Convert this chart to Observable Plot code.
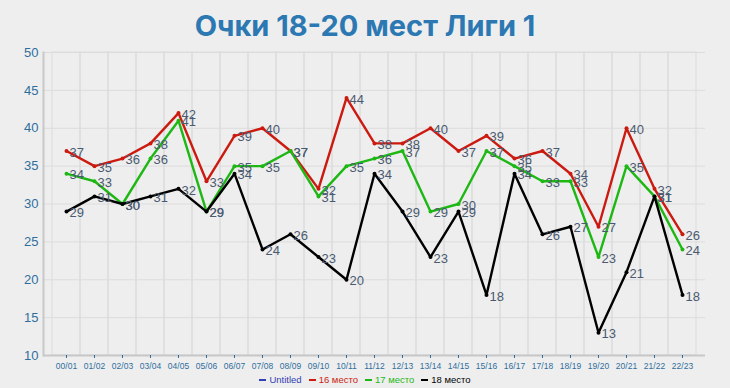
<!DOCTYPE html>
<html>
<head>
<meta charset="utf-8">
<script src="https://cdn.jsdelivr.net/npm/d3@7"></script>
<script src="https://cdn.jsdelivr.net/npm/@observablehq/plot@0.6"></script>
<style>
  html, body { margin: 0; padding: 0; background: #eeeeee; }
  #wrap { width: 730px; height: 388px; overflow: hidden; }
  #title { height: 40px; line-height: 52px; text-align: center; font-family: Inter, "Open Sans", sans-serif; font-weight: 700; font-size: 29px; color: #2b78b3; }
  #legend { height: 18px; display: flex; justify-content: center; align-items: center; gap: 7px; font-family: "Liberation Sans", Arial, sans-serif; font-size: 9.5px; font-weight: normal; }
  #legend span.sw { display: inline-block; width: 7px; height: 2px; vertical-align: middle; margin-right: 3px; }
</style>
</head>
<body>
<div id="wrap">
  <div id="title">Очки 18-20 мест Лиги 1</div>
  <div id="chart"></div>
  <div id="legend"></div>
</div>
<script>
const seasons = ["00/01","01/02","02/03","03/04","04/05","05/06","06/07","07/08","08/09","09/10","10/11","11/12","12/13","13/14","14/15","15/16","16/17","17/18","18/19","19/20","20/21","21/22","22/23"];
const place16 = [37,35,36,38,42,33,39,40,37,32,44,38,38,40,37,39,36,37,34,27,40,32,26];
const place17 = [34,33,30,36,41,29,35,35,37,31,35,36,37,29,30,37,35,33,33,23,35,31,24];
const place18 = [29,31,30,31,32,29,34,24,26,23,20,34,29,23,29,18,34,26,27,13,21,31,18];
const yTicks = [10,15,20,25,30,35,40,45,50];
const seriesNames = ["Untitled","16 место","17 место","18 место"];
const seriesColors = ["#3340b0","#cc1a10","#1eb814","#000000"];

const series = [
  {name: seriesNames[1], color: seriesColors[1], values: place16},
  {name: seriesNames[2], color: seriesColors[2], values: place17},
  {name: seriesNames[3], color: seriesColors[3], values: place18}
];
const rows = series.flatMap(s => s.values.map((v, i) => ({season: seasons[i], value: v, name: s.name, color: s.color})));

const lineMarks = series.flatMap(s => {
  const d = rows.filter(r => r.name === s.name);
  return [
    Plot.line(d, {x: "season", y: "value", stroke: s.color, strokeWidth: 2.4}),
    Plot.dot(d, {x: "season", y: "value", fill: s.color, r: 2})
  ];
});

const chart = Plot.plot({
  width: 730,
  height: 330,
  marginLeft: 43,
  marginRight: 25,
  marginTop: 12,
  marginBottom: 15,
  style: {background: "transparent", fontFamily: "'Liberation Sans', Arial, sans-serif"},
  x: {type: "band", domain: seasons, padding: 0, label: null, axis: null},
  y: {domain: [10, 50], label: null, axis: null},
  marks: [
    Plot.gridY(yTicks, {stroke: "#dcdcdc", strokeOpacity: 1}),
    Plot.barY(seasons, {x: d => d, y1: 10, y2: 50, fill: "none", stroke: "#dcdcdc", strokeWidth: 1}),
    Plot.ruleY([10], {stroke: "#c8c8c8", strokeWidth: 2}),
    Plot.frame({anchor: "left", stroke: "#c8c8c8", strokeWidth: 2}),
    Plot.axisY(yTicks, {tickSize: 0, tickPadding: 5, fontSize: 13, color: "#2e6e9e"}),
    Plot.axisX({tickSize: 3, tickPadding: 4, fontSize: 8.5, color: "#2e6e9e"}),
    ...lineMarks,
    Plot.text(rows, {x: "season", y: "value", text: d => String(d.value), textAnchor: "start", dx: 3, dy: 1.5, fontSize: 13, fill: "#4a5a70"})
  ]
});
document.getElementById("chart").appendChild(chart);

const legend = document.getElementById("legend");
seriesNames.forEach((n, i) => {
  const item = document.createElement("span");
  item.style.color = seriesColors[i];
  item.innerHTML = `<span class="sw" style="background:${seriesColors[i]}"></span>${n}`;
  legend.appendChild(item);
});
</script>
</body>
</html>
